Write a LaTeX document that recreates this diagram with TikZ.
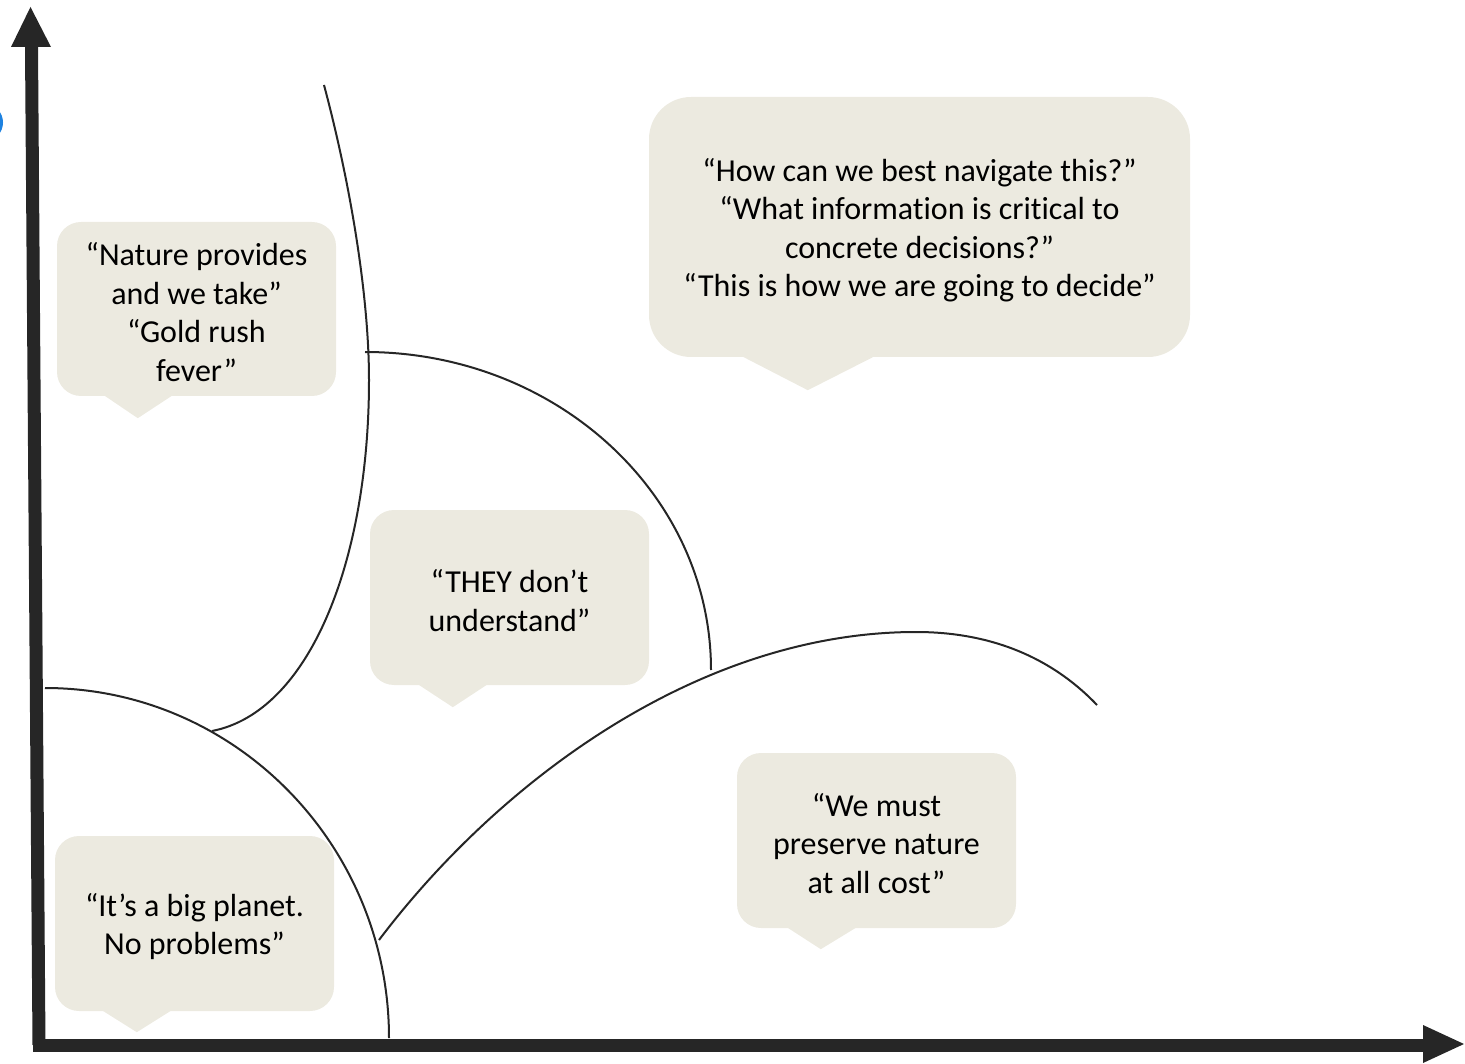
\documentclass[tikz,border=0pt]{standalone}
\usepackage{fontspec}
\setmainfont{Carlito}[Ligatures={NoCommon}]
\definecolor{axiscol}{HTML}{262626}
\definecolor{bubblefill}{HTML}{ECEAE0}
\definecolor{fragblue}{HTML}{1E82E0}
\tikzset{
  bubble/.style={fill=bubblefill, rounded corners=24pt, inner sep=0pt},
  bubbletext/.style={inner sep=0pt, align=center, yshift=-3pt,
    font=\fontsize{32}{38.5}\selectfont, text=black},
  tailfill/.style={fill=bubblefill},
  axisline/.style={draw=axiscol, line width=13pt},
  headfill/.style={fill=axiscol},
  zone/.style={draw=axiscol, line width=2pt}
}
\begin{document}
\begin{tikzpicture}[x=1pt,y=-1pt]
\useasboundingbox (0,0) rectangle (1465,1064);

% blue fragment at left edge
\draw[fragblue, line width=3pt] (-3,111) .. controls (3,117) and (3,128) .. (-3,134);

% axes
\coordinate (ytop) at (31.5,47);
\coordinate (ybot) at (39,1045);
\coordinate (xleft) at (33,1045);
\coordinate (xright) at (1424,1045);
\draw[axisline] (ybot) -- (ytop);
\draw[axisline] (xleft) -- (xright);
\fill[headfill] (11,47) -- (30.5,7) -- (51,47) -- cycle;
\fill[headfill] (1423,1025) -- (1464,1044) -- (1423,1063) -- cycle;

% bubbles
\node[bubble, minimum width=279pt, minimum height=174pt] (b1) at (196.5,309) {};
\fill[tailfill] ([xshift=47pt,yshift=1pt]b1.south west) -- ([xshift=81pt,yshift=-22pt]b1.south west) -- ([xshift=116pt,yshift=1pt]b1.south west) -- cycle;
\node[bubbletext] (t1) at (b1.center) {“Nature provides\\and we take”\\“Gold rush\\fever”};

\node[bubble, rounded corners=42pt, minimum width=541pt, minimum height=260pt] (b2) at (919.5,227) {};
\fill[tailfill] ([xshift=93pt,yshift=1pt]b2.south west) -- ([xshift=159pt,yshift=-33pt]b2.south west) -- ([xshift=226pt,yshift=1pt]b2.south west) -- cycle;
\node[bubbletext] (t2) at (b2.center) {“How can we best navigate this?”\\“What information is critical to\\concrete decisions?”\\“This is how we are going to decide”};

\node[bubble, minimum width=279pt, minimum height=175pt] (b3) at (509.5,597.5) {};
\fill[tailfill] ([xshift=48pt,yshift=1pt]b3.south west) -- ([xshift=83pt,yshift=-22pt]b3.south west) -- ([xshift=118pt,yshift=1pt]b3.south west) -- cycle;
\node[bubbletext] (t3) at (b3.center) {“THEY don’t\\understand”};

\node[bubble, minimum width=279pt, minimum height=175pt] (b4) at (876.5,840.5) {};
\fill[tailfill] ([xshift=50pt,yshift=1pt]b4.south west) -- ([xshift=84pt,yshift=-21pt]b4.south west) -- ([xshift=120pt,yshift=1pt]b4.south west) -- cycle;
\node[bubbletext] (t4) at (b4.center) {“We must\\preserve nature\\at all cost”};

\node[bubble, minimum width=279pt, minimum height=175pt] (b5) at (194.5,923.5) {};
\fill[tailfill] ([xshift=47pt,yshift=1pt]b5.south west) -- ([xshift=82pt,yshift=-21pt]b5.south west) -- ([xshift=117pt,yshift=1pt]b5.south west) -- cycle;
\node[bubbletext] (t5) at (b5.center) {“It’s a big planet.\\No problems”};

% zone curves
\coordinate (a0) at (324,85);
\coordinate (a1) at (369,380);
\coordinate (a2) at (212,731);
\draw[zone] (a0) .. controls (352,190) and (369,300) .. (a1)
  .. controls (369,560) and (310,712) .. (a2);

\coordinate (c0) at (365,352);
\coordinate (c1) at (711,670);
\draw[zone] (c0) .. controls (556,352) and (711,494) .. (c1);

\coordinate (e0) at (45,688);
\coordinate (e1) at (389,1038);
\draw[zone] (e0) .. controls (235,688) and (389,845) .. (e1);

\coordinate (d0) at (379,940);
\coordinate (d1) at (916,632);
\coordinate (d2) at (1097,705);
\draw[zone] (d0) .. controls (500,780) and (700,632) .. (d1)
  .. controls (1000,632) and (1058,664) .. (d2);
\end{tikzpicture}
\end{document}
